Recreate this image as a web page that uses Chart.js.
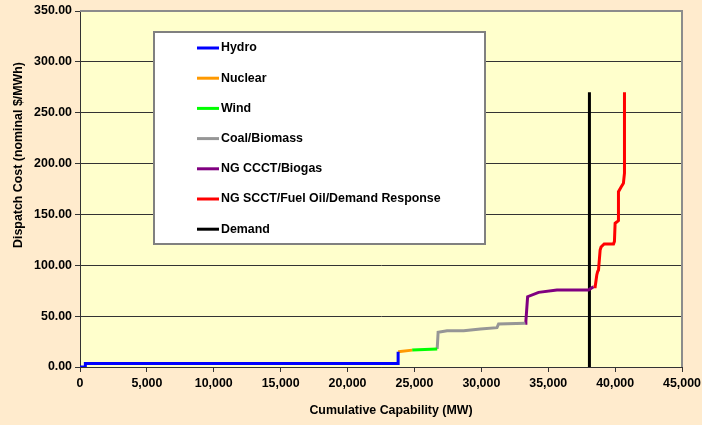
<!DOCTYPE html>
<html>
<head>
<meta charset="utf-8">
<script src="https://cdn.jsdelivr.net/npm/chart.js@4.4.0/dist/chart.umd.min.js"></script>
<style>
  body { margin: 0; background: #FFEBCD; }
  canvas { display: block; }
</style>
</head>
<body>
<canvas id="dispatch_canvas" width="702" height="425"></canvas>
<script>
// supply curve pieces, x = cumulative MW, y = $/MWh
var hydroX = [0, 400, 400, 23780, 23780];
var hydroY = [0, 0, 3.5, 3.5, 15];
var nuclearX = [23780, 24830];
var nuclearY = [15, 16.6];
var windX = [24830, 26700];
var windY = [16.6, 17.7];
var coalX = [26700, 26770, 27440, 28680, 29930, 31170, 31290, 33280];
var coalY = [17.7, 34.1, 35.7, 35.7, 37.4, 38.7, 42.3, 43];
var ccctX = [33280, 33330, 33460, 34280, 35650, 38010, 38380];
var ccctY = [43, 45, 69.1, 73.4, 75.7, 75.7, 79];
var scctX = [38380, 38510, 38630, 38700, 38760, 38880, 38950, 39180, 39880, 39950, 40000, 40120, 40250, 40250, 40450, 40620, 40700, 40700];
var scctY = [79, 79, 90.5, 94, 95.4, 115, 118, 121, 121, 123.5, 141.3, 142.5, 143.9, 172.4, 177, 180.6, 190.5, 270];
var demandX = [38080, 38080];
var demandY = [0, 270];

var seriesNames = ['Hydro', 'Nuclear', 'Wind', 'Coal/Biomass', 'NG CCCT/Biogas', 'NG SCCT/Fuel Oil/Demand Response', 'Demand'];
var seriesColors = ['#0000FF', '#FF9900', '#00FF00', '#969696', '#800080', '#FF0000', '#000000'];
var seriesXs = [hydroX, nuclearX, windX, coalX, ccctX, scctX, demandX];
var seriesYs = [hydroY, nuclearY, windY, coalY, ccctY, scctY, demandY];

var xTitle = 'Cumulative Capability (MW)';
var yTitle = 'Dispatch Cost (nominal $/MWh)';

function toPoints(xs, ys){
    var pts = [];
    for(var i in xs){
        pts.push({x: xs[i], y: ys[i]});
    }
    return pts;
}

var datasets = [];
for(var i in seriesNames){
    datasets.push({
        label: seriesNames[i],
        data: toPoints(seriesXs[i], seriesYs[i]),
        borderColor: seriesColors[i],
        backgroundColor: seriesColors[i],
        borderWidth: 3,
        pointRadius: 0,
        fill: false,
        tension: 0
    });
}

var fontSpec = {family: '"Liberation Sans", Arial, sans-serif', size: 12.4, weight: 'bold'};
var fontCss = 'bold 12.4px "Liberation Sans", Arial, sans-serif';

// backgrounds, plot border, axis titles and the boxed legend inside the plot
var framePlugin = {
    id: 'frame',
    beforeDraw: function(chart){
        var ctx = chart.ctx, a = chart.chartArea;
        ctx.save();
        ctx.fillStyle = '#FFEBCD';
        ctx.fillRect(0, 0, chart.width, chart.height);
        ctx.fillStyle = '#FFFFCC';
        ctx.fillRect(a.left, a.top, a.right - a.left, a.bottom - a.top);
        ctx.restore();
    },
    afterDraw: function(chart){
        var ctx = chart.ctx, a = chart.chartArea;
        ctx.save();
        ctx.strokeStyle = '#8C8C8C';
        ctx.lineWidth = 2;
        ctx.beginPath();
        ctx.moveTo(a.left, a.top);
        ctx.lineTo(a.right, a.top);
        ctx.lineTo(a.right, a.bottom);
        ctx.stroke();

        // axis titles (Excel puts them a bit off centre)
        ctx.font = fontCss;
        ctx.fillStyle = '#000000';
        ctx.textAlign = 'center';
        ctx.textBaseline = 'middle';
        ctx.fillText(xTitle, 391, 411);
        ctx.save();
        ctx.translate(19, 155);
        ctx.rotate(-Math.PI / 2);
        ctx.fillText(yTitle, 0, 0);
        ctx.restore();

        // legend box
        var bx = 154, by = 32, bw = 331, bh = 212;
        ctx.fillStyle = '#FFFFFF';
        ctx.fillRect(bx, by, bw, bh);
        ctx.strokeStyle = '#808080';
        ctx.lineWidth = 2;
        ctx.strokeRect(bx, by, bw, bh);
        ctx.textAlign = 'left';
        var ds = chart.data.datasets;
        for(var k = 0; k < ds.length; k++){
            var ry = 48 + k * 30.2;
            ctx.strokeStyle = ds[k].borderColor;
            ctx.lineWidth = 3;
            ctx.beginPath();
            ctx.moveTo(197, ry);
            ctx.lineTo(219, ry);
            ctx.stroke();
            ctx.fillStyle = '#000000';
            ctx.fillText(ds[k].label, 221, ry);
        }
        ctx.restore();
    }
};

var options = {
    responsive: false,
    animation: false,
    layout: { padding: { top: 11, right: 20, left: 0, bottom: 0 } },
    plugins: {
        legend: { display: false },
        tooltip: { enabled: false }
    },
    scales: {
        x: {
            type: 'linear',
            min: 0,
            max: 45000,
            afterFit: function(scale){
                scale.height = 58;
                scale.paddingLeft = 0;
                scale.paddingRight = 0;
            },
            ticks: {
                stepSize: 5000,
                color: '#000000',
                font: fontSpec,
                padding: 4,
                maxRotation: 0,
                callback: function(v){ return v.toLocaleString('en-US'); }
            },
            grid: { drawOnChartArea: false, drawTicks: true, tickLength: 5, color: '#333333' },
            border: { color: '#333333', width: 1 }
        },
        y: {
            min: 0,
            max: 350,
            afterFit: function(scale){ scale.width = 80; },
            ticks: {
                stepSize: 50,
                color: '#000000',
                font: fontSpec,
                padding: 3,
                callback: function(v){ return v.toFixed(2); }
            },
            grid: { color: '#333333', lineWidth: 1, tickLength: 5 },
            border: { color: '#333333', width: 1 }
        }
    }
};

var ctx1 = document.getElementById('dispatch_canvas');
var chart = new Chart(ctx1, {
    type: 'line',
    data: { datasets: datasets },
    options: options,
    plugins: [framePlugin]
});
</script>
</body>
</html>
